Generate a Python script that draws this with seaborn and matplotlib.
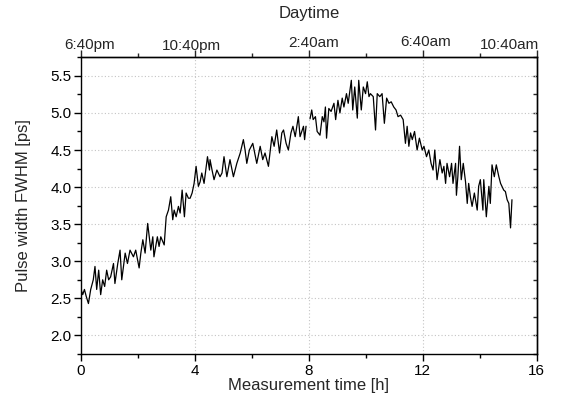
import matplotlib
matplotlib.use("Agg")
import matplotlib.pyplot as plt
import matplotlib.transforms as mtransforms
import seaborn as sns
import pandas as pd
from matplotlib.ticker import MultipleLocator, FormatStrFormatter

# ---- data ----
hours_a = [0.00, 0.06, 0.12, 0.18, 0.26, 0.34, 0.43, 0.49, 0.55, 0.62, 0.69, 0.76, 0.83, 0.90, 0.97,
           1.04, 1.14, 1.19, 1.29, 1.37, 1.43, 1.55, 1.63, 1.72, 1.84, 1.92, 2.04, 2.10, 2.17, 2.25,
           2.34, 2.45, 2.52, 2.56, 2.68, 2.74, 2.80, 2.92, 2.99, 3.07, 3.15, 3.22, 3.27, 3.34, 3.42,
           3.48, 3.55, 3.63, 3.69, 3.77, 3.83, 3.90, 3.97, 4.04, 4.12, 4.18, 4.24, 4.32, 4.44, 4.51,
           4.53, 4.60, 4.67, 4.77, 4.88, 4.95, 5.02, 5.12, 5.23, 5.35, 5.47, 5.59, 5.70, 5.76, 5.82,
           5.91, 6.03, 6.17, 6.29, 6.38, 6.46, 6.58, 6.70, 6.78, 6.87, 6.97, 7.05, 7.11, 7.20, 7.28,
           7.37, 7.44, 7.52, 7.63, 7.69, 7.81, 7.85, 7.90]
fwhm_a = [2.62, 2.55, 2.62, 2.53, 2.43, 2.62, 2.75, 2.93, 2.62, 2.88, 2.55, 2.75, 2.66, 2.88, 2.75,
          2.79, 2.97, 2.70, 2.97, 3.15, 2.75, 3.11, 2.97, 3.15, 3.06, 3.15, 2.91, 3.11, 3.29, 3.11,
          3.51, 3.15, 3.33, 3.06, 3.33, 3.20, 3.33, 3.22, 3.60, 3.69, 3.87, 3.56, 3.69, 3.60, 3.74,
          3.65, 3.96, 3.60, 3.92, 3.85, 3.85, 3.92, 4.05, 4.28, 4.01, 4.07, 4.19, 4.05, 4.41, 4.23,
          4.37, 4.23, 4.10, 4.23, 4.14, 4.19, 4.41, 4.14, 4.37, 4.14, 4.32, 4.46, 4.64, 4.50, 4.32,
          4.50, 4.59, 4.32, 4.55, 4.37, 4.46, 4.28, 4.68, 4.55, 4.77, 4.46, 4.73, 4.77, 4.59, 4.50,
          4.73, 4.82, 4.68, 4.95, 4.68, 4.82, 4.64, 4.82]

hours_b = [8.04, 8.10, 8.15, 8.23, 8.29, 8.39, 8.47, 8.53, 8.58, 8.62, 8.70, 8.78, 8.88, 8.94, 9.02,
           9.09, 9.17, 9.23, 9.32, 9.38, 9.49, 9.54, 9.61, 9.70, 9.75, 9.84, 9.91, 9.99, 10.05, 10.11,
           10.16, 10.26, 10.34, 10.40, 10.49, 10.57, 10.65, 10.73, 10.81, 10.89, 10.98, 11.06, 11.13,
           11.22, 11.31, 11.39, 11.45, 11.51, 11.57, 11.63, 11.71, 11.80, 11.88, 11.98, 12.04, 12.13,
           12.21, 12.29, 12.36, 12.42, 12.50, 12.60, 12.68, 12.74, 12.80, 12.85, 12.94, 13.01, 13.06,
           13.15, 13.18, 13.23, 13.29, 13.35, 13.42, 13.50, 13.56, 13.61, 13.67, 13.73, 13.81, 13.91,
           13.96, 14.02, 14.11, 14.14, 14.23, 14.32, 14.37, 14.43, 14.51, 14.58, 14.67, 14.73, 14.84,
           14.90, 14.96, 15.02, 15.08, 15.13]
fwhm_b = [4.92, 5.04, 4.91, 4.95, 4.75, 4.70, 4.95, 4.88, 5.08, 4.66, 5.06, 5.02, 5.13, 4.91, 5.17,
          5.00, 5.20, 5.08, 5.26, 5.13, 5.44, 5.04, 5.35, 4.93, 5.44, 5.04, 5.35, 5.26, 5.42, 5.22,
          5.26, 5.22, 4.77, 5.26, 5.22, 5.26, 4.86, 5.20, 5.13, 5.15, 5.08, 5.04, 4.95,
          4.97, 4.91, 4.59, 4.82, 4.55, 4.73, 4.64, 4.75, 4.50, 4.66, 4.50, 4.55, 4.41,
          4.50, 4.32, 4.23, 4.50, 4.10, 4.37, 4.19, 4.28, 4.05, 4.32, 4.14, 4.32, 4.05,
          4.32, 3.89, 4.14, 4.55, 4.10, 4.32, 4.07, 3.78, 4.05, 3.87, 3.74, 3.92, 3.69,
          4.01, 4.10, 3.69, 4.10, 3.60, 4.01, 3.78, 4.30, 4.14, 4.30, 4.14, 4.05, 3.96,
          3.94, 3.83, 3.78, 3.45, 3.83]

bottom_ticks = [0, 4, 8, 12, 16]
top_labels = ["6:40pm", "10:40pm", "2:40am", "6:40am", "10:40am"]

df = pd.DataFrame({
    "hours": hours_a + hours_b,
    "fwhm": fwhm_a + fwhm_b,
    "segment": [0] * len(hours_a) + [1] * len(hours_b),
})

# ---- style ----
sns.set_style("ticks")
plt.rcParams["font.family"] = ["Liberation Sans", "DejaVu Sans"]
plt.rcParams["font.size"] = 11

fig = plt.figure(figsize=(5.71, 4.05), dpi=100)
ax = fig.add_axes([0.1419, 0.126, 0.7981, 0.7325])

sns.lineplot(data=df, x="hours", y="fwhm", units="segment", estimator=None,
             color="black", linewidth=0.9, ax=ax, legend=False)

ax.set_xlim(0, 16)
ax.set_ylim(1.75, 5.75)
ax.set_xticks(bottom_ticks)
ax.xaxis.set_minor_locator(MultipleLocator(2))
ax.yaxis.set_major_locator(MultipleLocator(0.5))
ax.yaxis.set_minor_locator(MultipleLocator(0.25))
ax.yaxis.set_major_formatter(FormatStrFormatter("%.1f"))

ax.grid(True, which="major", linestyle=(0, (1, 2)), color="#c4c4c4", linewidth=0.8)
ax.set_axisbelow(True)

for s in ax.spines.values():
    s.set_linewidth(1.0)
    s.set_color("black")
    s.set_visible(True)

ax.tick_params(axis="both", which="major", direction="out", length=5, width=1,
               labelsize=11, colors="black", pad=2)
ax.tick_params(axis="both", which="minor", direction="out", length=3, width=1, colors="black")

ax.set_xlabel("Measurement time [h]", fontsize=12, labelpad=0)
ax.set_ylabel("Pulse width FWHM [ps]", fontsize=12, labelpad=14)

# top axis: daytime
top = ax.secondary_xaxis("top")
top.set_xticks(bottom_ticks)
top.set_xticklabels(top_labels)
top.xaxis.set_minor_locator(MultipleLocator(2))
top.tick_params(which="major", direction="out", length=5, width=1, labelsize=11, pad=2)
top.tick_params(which="minor", direction="out", length=3, width=1)
top.set_xlabel("Daytime", fontsize=12, labelpad=12)
top.spines["top"].set_linewidth(1.0)

# shift top labels like in the reference
shifts = [(9, -4), (-4, -5), (5, -2), (3, -1), (-27, -4)]
for lab, (dx, dy) in zip(top.get_xticklabels(), shifts):
    lab.set_transform(lab.get_transform() +
                      mtransforms.ScaledTranslation(dx / 100, dy / 100, fig.dpi_scale_trans))

# right axis: inward ticks only
right = ax.secondary_yaxis("right")
right.yaxis.set_major_locator(MultipleLocator(0.5))
right.yaxis.set_minor_locator(MultipleLocator(0.25))
right.tick_params(which="both", direction="in", length=3, width=1, labelright=False)
right.spines["right"].set_linewidth(1.0)

fig.savefig("out.png", dpi=100)
